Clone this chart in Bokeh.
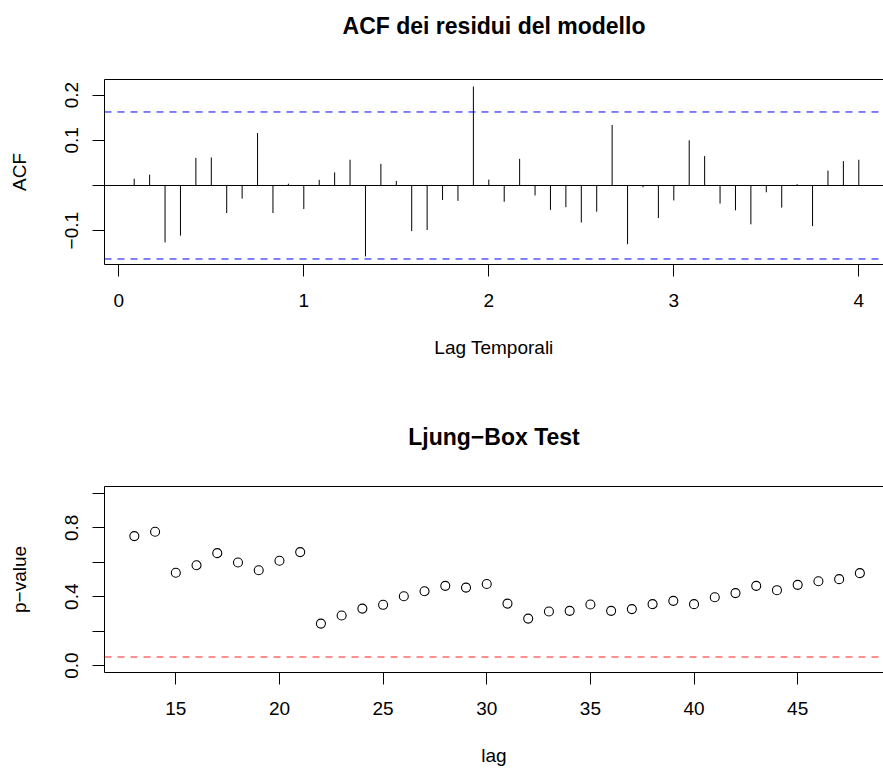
from bokeh.plotting import figure
from bokeh.models import FixedTicker, LinearAxis, Range1d, ColumnDataSource, Span
from bokeh.layouts import column
from bokeh.embed import file_html
from bokeh.resources import INLINE

# ---------------- data ----------------
acf_title = "ACF dei residui del modello"
acf_xlabel = "Lag Temporali"
acf_ylabel = "ACF"
acf_frequency = 12
acf_lag_index = list(range(1, 49))
acf_values = [0.015, 0.024, -0.126, -0.111, 0.061, 0.062, -0.061, -0.029, 0.116, -0.061, 0.004, -0.052,
              0.0125, 0.029, 0.057, -0.157, 0.048, 0.010, -0.101, -0.0985, -0.032, -0.034, 0.219, 0.013,
              -0.036, 0.059, -0.022, -0.054, -0.048, -0.082, -0.058, 0.134, -0.130, -0.004, -0.072, -0.033,
              0.100, 0.065, -0.040, -0.055, -0.086, -0.015, -0.049, 0.003, -0.090, 0.033, 0.054, 0.057]
acf_ci = [0.1627, -0.1627]
acf_xticks = [0, 1, 2, 3, 4]
acf_yticks = [-0.1, 0.0, 0.1, 0.2]
acf_ytick_labels = {-0.1: "\u22120.1", 0.0: "", 0.1: "0.1", 0.2: "0.2"}

lb_title = "Ljung\u2212Box Test"
lb_xlabel = "lag"
lb_ylabel = "p\u2212value"
lb_lags = list(range(13, 49))
lb_pvalues = [0.752, 0.777, 0.539, 0.583, 0.653, 0.599, 0.554, 0.609, 0.659,
              0.244, 0.291, 0.331, 0.353, 0.403, 0.432, 0.463, 0.453, 0.474,
              0.360, 0.273, 0.314, 0.318, 0.355, 0.318, 0.328, 0.357, 0.376,
              0.357, 0.397, 0.421, 0.463, 0.438, 0.469, 0.490, 0.502, 0.537]
lb_threshold = 0.05
lb_xticks = [15, 20, 25, 30, 35, 40, 45]
lb_yticks = [0.0, 0.2, 0.4, 0.6, 0.8, 1.0]
lb_ytick_labels = {0.0: "0.0", 0.2: "", 0.4: "0.4", 0.6: "", 0.8: "0.8", 1.0: ""}

FONT = "Liberation Sans"
W = 883
DASH = "7 6"


def style(p, xticks, yticks, ylabels, xlabel, ylabel, title_gap):
    p.outline_line_color = None
    p.background_fill_color = "white"
    p.border_fill_color = "white"
    p.xgrid.grid_line_color = None
    p.ygrid.grid_line_color = None
    p.title.text_font = FONT
    p.title.text_font_size = "23px"
    p.title.text_font_style = "bold"
    p.title.text_color = "black"
    p.title.align = "center"
    p.title.standoff = 10
    for ax in (p.xaxis, p.yaxis):
        ax.axis_line_color = "black"
        ax.axis_line_width = 1
        ax.major_tick_line_color = "black"
        ax.major_tick_out = 12
        ax.major_tick_in = 0
        ax.minor_tick_line_color = None
        ax.major_label_text_font = FONT
        ax.major_label_text_font_size = "19px"
        ax.major_label_text_color = "black"
        ax.axis_label_text_font = FONT
        ax.axis_label_text_font_size = "19px"
        ax.axis_label_text_font_style = "normal"
        ax.axis_label_text_color = "black"
    p.xaxis.ticker = FixedTicker(ticks=xticks)
    p.yaxis.ticker = FixedTicker(ticks=yticks)
    p.yaxis.major_label_overrides = ylabels
    p.yaxis.major_label_orientation = "vertical"
    p.xaxis.major_label_standoff = 17
    p.xaxis.axis_label_standoff = 27
    p.yaxis.major_label_standoff = 14
    p.yaxis.axis_label_standoff = 33
    p.xaxis.axis_label = xlabel
    p.yaxis.axis_label = ylabel
    # top side of the box; an empty 1px axis label keeps the title at R's height
    top = LinearAxis(ticker=FixedTicker(ticks=[]), major_label_text_font_size="0px",
                     major_tick_out=0, major_tick_in=0, minor_tick_out=0, minor_tick_in=0,
                     axis_line_color="black", axis_line_width=1,
                     axis_label=" ", axis_label_text_font_size="1px",
                     axis_label_standoff=title_gap)
    p.add_layout(top, "above")


# ---------------- ACF panel ----------------
acf_lag = [k / acf_frequency for k in acf_lag_index]
acf_src = ColumnDataSource(dict(lag=acf_lag, zero=[0.0] * len(acf_values), acf=acf_values))
acf_xr = Range1d(-0.0773, 4.1335)
p1 = figure(width=W, height=385, output_backend="svg", toolbar_location=None,
            x_range=acf_xr, y_range=Range1d(-0.1749, 0.2346),
            min_border_left=104, min_border_right=0, min_border_top=79, min_border_bottom=121,
            title=acf_title)
style(p1, acf_xticks, acf_yticks, acf_ytick_labels, acf_xlabel, acf_ylabel, 32)
p1.add_layout(Span(location=0.0, dimension="width", line_color="black", line_width=1))
p1.segment(x0="lag", y0="zero", x1="lag", y1="acf", source=acf_src, line_color="black", line_width=1)
ci_src = ColumnDataSource(dict(x0=[acf_xr.start] * len(acf_ci), x1=[acf_xr.end] * len(acf_ci),
                               y=acf_ci))
p1.segment(x0="x0", y0="y", x1="x1", y1="y", source=ci_src, line_color="#0000FF",
           line_width=1, line_dash=DASH)

# ---------------- Ljung-Box panel ----------------
lb_src = ColumnDataSource(dict(lag=lb_lags, p=lb_pvalues))
p2 = figure(width=W, height=386, output_backend="svg", toolbar_location=None,
            x_range=Range1d(11.56, 49.14), y_range=Range1d(-0.04, 1.04),
            min_border_left=104, min_border_right=0, min_border_top=101, min_border_bottom=99,
            title=lb_title)
style(p2, lb_xticks, lb_yticks, lb_ytick_labels, lb_xlabel, lb_ylabel, 28)
p2.scatter(x="lag", y="p", source=lb_src, marker="circle", size=9, fill_color=None,
           line_color="black", line_width=1.1)
p2.add_layout(Span(location=lb_threshold, dimension="width", line_color="#FF2020", line_width=1,
                   line_dash=DASH))

layout = column(p1, p2, spacing=0)
open("out.html", "w").write(file_html(layout, INLINE))
